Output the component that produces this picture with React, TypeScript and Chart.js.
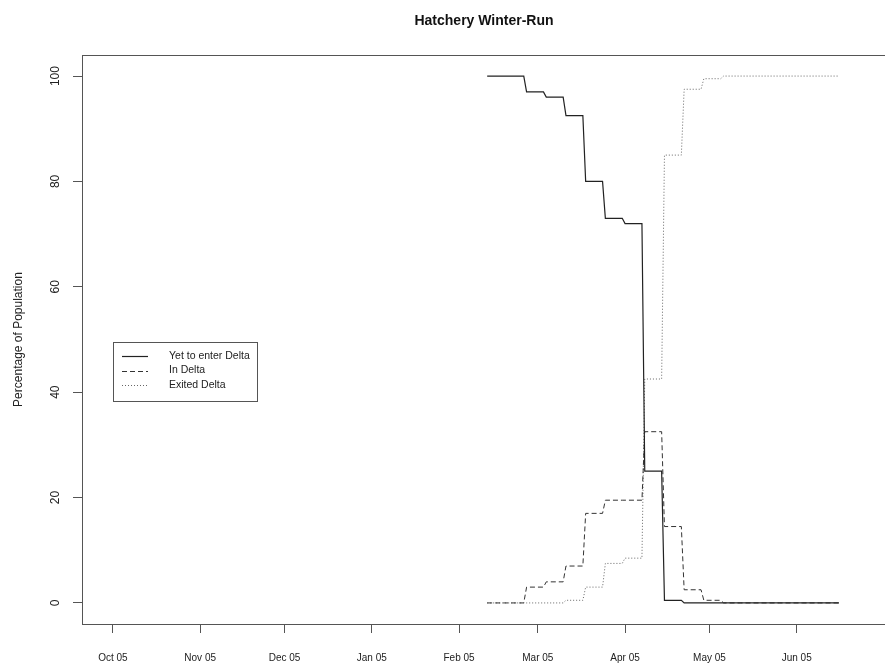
import React, { useEffect, useRef } from "react";
import { Chart, registerables } from "chart.js";

Chart.register(...registerables);

// Day offsets are counted from the first of October.
const MONTH_TICK_DAYS = [0, 31, 61, 92, 123, 151, 182, 212, 243];
const MONTH_TICK_LABELS = ["Oct 05", "Nov 05", "Dec 05", "Jan 05", "Feb 05", "Mar 05", "Apr 05", "May 05", "Jun 05"];
const Y_TICKS = [0, 20, 40, 60, 80, 100];

// Weekly estimates; each value holds for seven days starting on its week's day.
const WEEK_START_DAYS = [133, 140, 147, 154, 161, 168, 175, 182, 189, 196, 203, 210, 217, 224, 231, 238, 245, 252];
const LAST_DAY = 258;
const YET_TO_ENTER = [100, 100, 97, 96, 92.5, 80, 73, 72, 25, 0.5, 0, 0, 0, 0, 0, 0, 0, 0];
const IN_DELTA = [0, 0, 3, 4, 7, 17, 19.5, 19.5, 32.5, 14.5, 2.5, 0.5, 0, 0, 0, 0, 0, 0];
const EXITED_DELTA = [0, 0, 0, 0, 0.5, 3, 7.5, 8.5, 42.5, 85, 97.5, 99.5, 100, 100, 100, 100, 100, 100];

const SERIES_NAMES = ["Yet to enter Delta", "In Delta", "Exited Delta"];

const FONT = "'Liberation Sans', Arial, Helvetica, sans-serif";
const INK = "#222";
const AXIS = "#555";

// Turn weekly values into a daily step path (one point at each end of a week).
function stepPoints(values: number[]) {
  const pts: { x: number; y: number }[] = [];
  values.forEach((v, i) => {
    const start = WEEK_START_DAYS[i];
    const end = i + 1 < WEEK_START_DAYS.length ? WEEK_START_DAYS[i + 1] - 1 : LAST_DAY;
    pts.push({ x: start, y: v });
    pts.push({ x: end, y: v });
  });
  return pts;
}

const LINE_STYLES = [
  { color: "#222", dash: [] as number[], width: 1.2 },
  { color: "#333", dash: [5, 3], width: 1 },
  { color: "#666", dash: [1, 2], width: 1 },
];

const framePlugin = {
  id: "frame",
  afterDraw(chart: any) {
    const { ctx, chartArea } = chart;
    const { left, right, top, bottom } = chartArea;
    const yScale = chart.scales.y;
    ctx.save();

    // plot box
    ctx.strokeStyle = AXIS;
    ctx.lineWidth = 1;
    ctx.strokeRect(left + 0.5, top + 0.5, right - left, bottom - top);

    // title
    ctx.fillStyle = "#111";
    ctx.font = `bold 14px ${FONT}`;
    ctx.textAlign = "center";
    ctx.textBaseline = "middle";
    ctx.fillText("Hatchery Winter-Run", 484, 21);

    // rotated y tick labels
    ctx.font = `12px ${FONT}`;
    ctx.fillStyle = INK;
    Y_TICKS.forEach((v) => {
      const py = yScale.getPixelForValue(v);
      ctx.save();
      ctx.translate(56, py);
      ctx.rotate(-Math.PI / 2);
      ctx.fillText(String(v), 0, 0);
      ctx.restore();
    });

    // y axis title
    ctx.save();
    ctx.translate(19, (top + bottom) / 2);
    ctx.rotate(-Math.PI / 2);
    ctx.fillText("Percentage of Population", 0, 0);
    ctx.restore();

    // legend
    const bx = 113, by = 342, bw = 144, bh = 59;
    ctx.strokeStyle = AXIS;
    ctx.strokeRect(bx + 0.5, by + 0.5, bw, bh);
    ctx.font = `10.5px ${FONT}`;
    ctx.textAlign = "left";
    SERIES_NAMES.forEach((name, i) => {
      const ly = by + 14 + i * 14.5;
      const st = LINE_STYLES[i];
      ctx.strokeStyle = st.color;
      ctx.lineWidth = st.width;
      ctx.setLineDash(st.dash);
      ctx.beginPath();
      ctx.moveTo(bx + 9, Math.round(ly) + 0.5);
      ctx.lineTo(bx + 35, Math.round(ly) + 0.5);
      ctx.stroke();
      ctx.setLineDash([]);
      ctx.fillStyle = INK;
      ctx.fillText(name, bx + 56, ly);
    });

    ctx.restore();
  },
};

export default function App() {
  const canvasRef = useRef<HTMLCanvasElement | null>(null);

  useEffect(() => {
    const canvas = canvasRef.current;
    if (!canvas) return;
    const series = [YET_TO_ENTER, IN_DELTA, EXITED_DELTA];
    const chart = new Chart(canvas, {
      type: "line",
      data: {
        datasets: series.map((values, i) => ({
          label: SERIES_NAMES[i],
          data: stepPoints(values),
          borderColor: LINE_STYLES[i].color,
          borderDash: LINE_STYLES[i].dash,
          borderWidth: LINE_STYLES[i].width,
          pointRadius: 0,
          fill: false,
          tension: 0,
        })),
      },
      options: {
        responsive: false,
        animation: false,
        events: [],
        layout: { padding: { top: 55, right: 22, left: 0, bottom: 0 } },
        plugins: { legend: { display: false }, tooltip: { enabled: false }, title: { display: false } },
        scales: {
          x: {
            type: "linear",
            min: -11,
            max: 279,
            afterFit: (scale: any) => {
              scale.height = 40;
            },
            afterBuildTicks: (scale: any) => {
              scale.ticks = MONTH_TICK_DAYS.map((v) => ({ value: v }));
            },
            grid: { drawOnChartArea: false, drawTicks: true, tickLength: 9, color: AXIS },
            border: { display: true, color: AXIS },
            ticks: {
              autoSkip: false,
              maxRotation: 0,
              minRotation: 0,
              padding: 19,
              color: INK,
              font: { family: FONT, size: 10 },
              callback: (value: any) => {
                const idx = MONTH_TICK_DAYS.indexOf(Number(value));
                return idx >= 0 ? MONTH_TICK_LABELS[idx] : "";
              },
            },
          },
          y: {
            type: "linear",
            min: -4,
            max: 104,
            afterFit: (scale: any) => {
              scale.width = 82;
            },
            afterBuildTicks: (scale: any) => {
              scale.ticks = Y_TICKS.map((v) => ({ value: v }));
            },
            grid: { drawOnChartArea: false, drawTicks: true, tickLength: 9, color: AXIS },
            border: { display: true, color: AXIS },
            ticks: { display: false },
          },
        },
      },
      plugins: [framePlugin],
    });
    return () => chart.destroy();
  }, []);

  return (
    <div
      style={{
        position: "fixed",
        left: 0,
        top: 0,
        width: 885,
        height: 664,
        overflow: "hidden",
        background: "#fff",
      }}
    >
      <canvas ref={canvasRef} width={920} height={664} style={{ display: "block", width: 920, height: 664 }} />
    </div>
  );
}
